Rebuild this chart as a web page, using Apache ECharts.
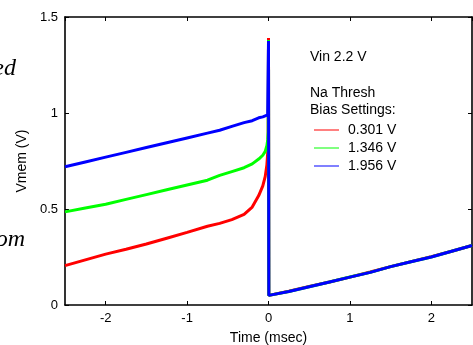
<!DOCTYPE html>
<html>
<head>
<meta charset="utf-8">
<script src="https://cdn.jsdelivr.net/npm/echarts@6/dist/echarts.min.js"></script>
<style>
html,body{margin:0;padding:0;background:#fff;}
#chart{width:473px;height:345px;}
</style>
</head>
<body>
<div id="chart"></div>
<script>
// Time axis samples (msec)
const timePre  = [-2.5, -2.25, -2.0, -1.75, -1.5, -1.25, -1.0, -0.75, -0.6, -0.45, -0.3, -0.2, -0.12, -0.07, -0.04, -0.02, -0.01, -0.004];
const timeSpike = [0, 0.004];
const timePost = [0.02, 0.25, 0.5, 0.75, 1.0, 1.25, 1.5, 1.75, 2.0, 2.25, 2.5];

// Vmem (V) before the spike
const redPre   = [0.205, 0.235, 0.265, 0.29, 0.318, 0.348, 0.378, 0.41, 0.425, 0.445, 0.472, 0.51, 0.57, 0.62, 0.67, 0.73, 0.79, 0.86];
const greenPre = [0.485, 0.505, 0.525, 0.55, 0.575, 0.60, 0.625, 0.65, 0.675, 0.695, 0.715, 0.735, 0.76, 0.78, 0.80, 0.83, 0.86, 0.90];
const bluePre  = [0.72, 0.745, 0.77, 0.795, 0.82, 0.845, 0.87, 0.895, 0.91, 0.93, 0.95, 0.96, 0.975, 0.98, 0.985, 0.99, 0.99, 0.99];
// spike peak and reset
const redSpike   = [1.39, 0.05];
const greenSpike = [1.38, 0.05];
const blueSpike  = [1.375, 0.05];
// after reset
const redPost   = [0.052, 0.072, 0.097, 0.12, 0.145, 0.172, 0.2, 0.226, 0.252, 0.28, 0.31];
const greenPost = [0.05, 0.07, 0.095, 0.12, 0.146, 0.17, 0.2, 0.225, 0.25, 0.28, 0.31];
const bluePost  = [0.05, 0.07, 0.095, 0.12, 0.145, 0.17, 0.2, 0.225, 0.25, 0.28, 0.31];

const seriesNames = ['0.301 V', '1.346 V', '1.956 V'];
const seriesColors = ['#ff0000', '#00ff00', '#0000ff'];
const xTickLabels = ['-2', '-1', '0', '1', '2'];
const yTickLabels = ['0', '0.5', '1', '1.5'];

function build(pre, spike, post) {
  const t = timePre.concat(timeSpike, timePost);
  const v = pre.concat(spike, post);
  return t.map((x, i) => [x, v[i]]);
}
const seriesData = [
  build(redPre, redSpike, redPost),
  build(greenPre, greenSpike, greenPost),
  build(bluePre, blueSpike, bluePost)
];

const chart = echarts.init(document.getElementById('chart'), null, {renderer: 'canvas'});
const font = 'Liberation Sans, Arial, sans-serif';
function axisBase() {
  return {
    axisLine: {show: true, onZero: false, lineStyle: {color: '#000', width: 1.6}},
    axisTick: {show: true, inside: true, length: 4, lineStyle: {color: '#000'}},
    splitLine: {show: false}
  };
}
chart.setOption({
  animation: false,
  backgroundColor: '#fff',
  grid: {left: 65, right: 1, top: 17, bottom: 40, containLabel: false, outerBoundsMode: 'none'},
  xAxis: [
    Object.assign(axisBase(), {
      type: 'value', min: -2.5, max: 2.5, splitNumber: 5, position: 'bottom',
      name: 'Time (msec)', nameLocation: 'middle', nameGap: 26,
      nameTextStyle: {fontFamily: font, fontSize: 14, color: '#000'},
      axisLabel: {
        show: true, showMinLabel: false, showMaxLabel: false, margin: 7,
        fontFamily: font, fontSize: 13, color: '#000',
        formatter: v => { const s = String(v); return xTickLabels.indexOf(s) >= 0 ? s : ''; }
      }
    }),
    Object.assign(axisBase(), {
      type: 'value', min: -2.5, max: 2.5, splitNumber: 5, position: 'top',
      axisLabel: {show: false}
    })
  ],
  yAxis: [
    Object.assign(axisBase(), {
      type: 'value', min: 0, max: 1.5, interval: 0.5, position: 'left',
      name: 'Vmem (V)', nameLocation: 'middle', nameGap: 25, nameRotate: 90,
      nameTextStyle: {fontFamily: font, fontSize: 14, color: '#000'},
      axisLabel: {
        show: true, margin: 7, fontFamily: font, fontSize: 13, color: '#000',
        formatter: v => { const s = String(v); return yTickLabels.indexOf(s) >= 0 ? s : ''; }
      }
    }),
    Object.assign(axisBase(), {
      type: 'value', min: 0, max: 1.5, interval: 0.5, position: 'right',
      axisLabel: {show: false}
    })
  ],
  legend: {
    orient: 'vertical', left: 309, top: 116,
    itemWidth: 25, itemHeight: 1, itemGap: 0, icon: 'rect',
    data: seriesNames,
    textStyle: {fontFamily: font, fontSize: 14, color: '#000', lineHeight: 18, padding: [0, 0, 0, 4]}
  },
  graphic: [
    {type: 'text', left: 310, top: 50, style: {text: 'Vin 2.2 V', font: '14px ' + font, fill: '#000'}},
    {type: 'text', left: 310, top: 86, style: {text: 'Na Thresh', font: '14px ' + font, fill: '#000'}},
    {type: 'text', left: 310, top: 103, style: {text: 'Bias Settings:', font: '14px ' + font, fill: '#000'}},
    {type: 'text', x: 16, y: 69, style: {text: 'ed', font: 'italic 24px "Liberation Serif", serif', fill: '#000', align: 'right', verticalAlign: 'middle'}},
    {type: 'text', x: 25, y: 240, style: {text: 'om', font: 'italic 24px "Liberation Serif", serif', fill: '#000', align: 'right', verticalAlign: 'middle'}}
  ],
  series: seriesData.map((d, i) => ({
    name: seriesNames[i], type: 'line', data: d, showSymbol: false, symbol: 'none',
    color: seriesColors[i],
    lineStyle: {color: seriesColors[i], width: 3},
    itemStyle: {color: seriesColors[i]},
    z: 2 + i
  }))
});
</script>
</body>
</html>
